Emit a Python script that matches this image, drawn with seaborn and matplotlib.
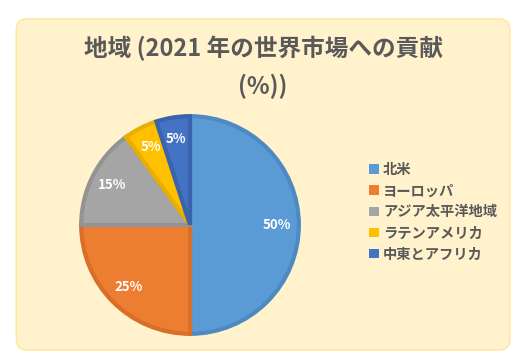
"""
Regional contribution to the 2021 global market - pie chart
"""
import matplotlib
matplotlib.use("Agg")
import matplotlib.pyplot as plt
from matplotlib.patches import FancyBboxPatch, Patch
import seaborn as sns

# Data
regions = ['北米', 'ヨーロッパ', 'アジア太平洋地域', 'ラテンアメリカ', '中東とアフリカ']
shares = [50, 25, 15, 5, 5]
colors = ['#5B9BD5', '#ED7D31', '#A5A5A5', '#FFC000', '#4472C4']
edge_colors = ['#4E8AC2', '#D86E28', '#939393', '#E8AE00', '#3A63AD']
title_lines = ['地域 (2021 年の世界市場への貢献', '(%))']

sns.set_theme(style='white')
plt.rcParams['font.family'] = ['Noto Sans CJK JP', 'DejaVu Sans']

fig = plt.figure(figsize=(5.25, 3.63), dpi=100)
fig.patch.set_facecolor('white')

# rounded pale-yellow panel
panel = FancyBboxPatch((0.031, 0.036), 0.94, 0.912,
                       boxstyle='round,pad=0,rounding_size=0.02',
                       mutation_aspect=525 / 363,
                       transform=fig.transFigure,
                       facecolor='#FFF2CC', edgecolor='#FFE699', linewidth=1,
                       zorder=-5)
fig.patches.append(panel)

# title
fig.text(0.501, 0.866, title_lines[0], ha='center', va='center',
         fontsize=17, fontweight='bold', color='#595959')
fig.text(0.501, 0.762, title_lines[1], ha='center', va='center',
         fontsize=17, fontweight='bold', color='#595959')

# pie
ax = fig.add_axes([0.1505, 0.0744, 0.4229, 0.6116])
ax.set_zorder(1)
wedges, texts, autotexts = ax.pie(
    shares, colors=colors, startangle=90, counterclock=False,
    autopct='%d%%', pctdistance=0.8, radius=1,
    wedgeprops=dict(linewidth=3),
    textprops=dict(color='white', fontsize=9.5, fontweight='bold'))
for w, ec in zip(wedges, edge_colors):
    w.set_edgecolor(ec)
ax.set_xlim(-1.02, 1.02)
ax.set_ylim(-1.02, 1.02)
ax.set_aspect('equal')
ax.axis('off')

# legend
handles = [Patch(facecolor=c, edgecolor='none') for c in colors]
fig.legend(handles, regions, loc='center left',
           bbox_to_anchor=(0.679, 0.415), frameon=False,
           labelcolor='#595959',
           handlelength=0.65, handleheight=0.65, handletextpad=0.3,
           labelspacing=0.5, prop={'weight': 'bold', 'size': 10.3})

plt.savefig('out.png', dpi=100)
plt.close()
